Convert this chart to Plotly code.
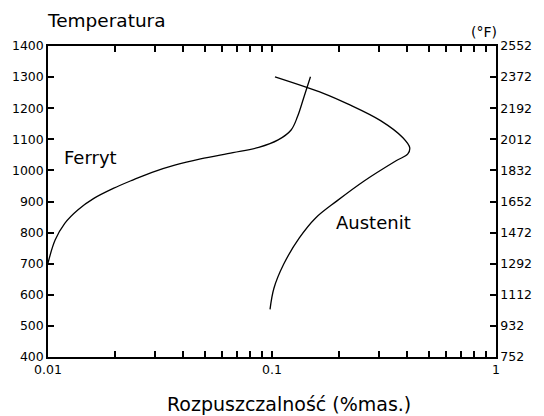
import plotly.graph_objects as go

# Ferrite solubility curve (wt.%, °C)
ferryt_x = [0.0100, 0.01076, 0.01188, 0.01358, 0.01602, 0.01955, 0.02387, 0.02914, 0.03679,
            0.04797, 0.06691, 0.08723, 0.1065, 0.1217, 0.1300, 0.1390, 0.1485]
ferryt_y = [702, 776, 830, 873, 910, 942, 969, 994, 1017,
            1037, 1057, 1074, 1098, 1130, 1173, 1237, 1301]

# Austenite solubility curve (wt.%, °C)
austenit_x = [0.1031, 0.1696, 0.2176, 0.3053, 0.3841, 0.4119, 0.404, 0.3581, 0.2578,
              0.1950, 0.1566, 0.1322, 0.1127, 0.1020, 0.0980]
austenit_y = [1301, 1248, 1214, 1160, 1105, 1073, 1053, 1031, 966, 902, 847, 782, 698, 621, 553]

x_tickvals = [0.01, 0.02, 0.03, 0.04, 0.05, 0.06, 0.07, 0.08, 0.09,
              0.1, 0.2, 0.3, 0.4, 0.5, 0.6, 0.7, 0.8, 0.9, 1]
x_ticktext = ["0.01", "", "", "", "", "", "", "", "",
              "0.1", "", "", "", "", "", "", "", "", "1"]
c_ticks = [400, 500, 600, 700, 800, 900, 1000, 1100, 1200, 1300, 1400]
f_ticks = ["752", "932", "1112", "1292", "1472", "1652", "1832", "2012", "2192", "2372", "2552"]

FONT = "DejaVu Sans"
line = dict(color="black", width=1.3, shape="spline", smoothing=1.0)

fig = go.Figure()
fig.add_trace(go.Scatter(x=ferryt_x, y=ferryt_y, mode="lines", line=line,
                         showlegend=False, hoverinfo="skip"))
fig.add_trace(go.Scatter(x=austenit_x, y=austenit_y, mode="lines", line=line,
                         showlegend=False, hoverinfo="skip"))
fig.add_trace(go.Scatter(x=[0.01], y=[c_ticks[0]], yaxis="y2", mode="markers",
                         marker=dict(opacity=0), showlegend=False, hoverinfo="skip"))

axis_common = dict(showline=True, linecolor="black", linewidth=1.5, ticks="inside",
                   ticklen=6, tickcolor="black", tickwidth=1.5, showgrid=False,
                   zeroline=False, tickfont=dict(family=FONT, size=12.5, color="black"))

fig.update_layout(
    width=544, height=416,
    margin=dict(l=46, r=36, t=46, b=59),
    paper_bgcolor="white", plot_bgcolor="white",
    font=dict(family=FONT, color="black"),
    xaxis=dict(type="log", range=[-2, 0], tickvals=x_tickvals, ticktext=x_ticktext,
               mirror="ticks", **axis_common),
    yaxis=dict(range=[400, 1400], tickvals=c_ticks, **axis_common),
    yaxis2=dict(range=[400, 1400], tickvals=c_ticks, ticktext=f_ticks, overlaying="y",
                side="right", **axis_common),
    annotations=[
        dict(text="Temperatura", xref="paper", yref="paper", x=-0.0065, y=1.0836,
             xanchor="left", yanchor="middle", showarrow=False,
             font=dict(family=FONT, size=18.5)),
        dict(text="(°F)", xref="paper", yref="paper", x=0.974, y=1.045,
             xanchor="center", yanchor="middle", showarrow=False,
             font=dict(family=FONT, size=14)),
        dict(text="Ferryt", xref="x", yref="y", x=-1.81, y=1040,
             xanchor="center", yanchor="middle", showarrow=False,
             font=dict(family=FONT, size=18)),
        dict(text="Austenit", xref="x", yref="y", x=-0.545, y=831,
             xanchor="center", yanchor="middle", showarrow=False,
             font=dict(family=FONT, size=18)),
        dict(text="Rozpuszczalność (%mas.)", xref="paper", yref="paper", x=0.537, y=-0.151,
             xanchor="center", yanchor="middle", showarrow=False,
             font=dict(family=FONT, size=19)),
    ],
)

fig.write_html("out.html")
